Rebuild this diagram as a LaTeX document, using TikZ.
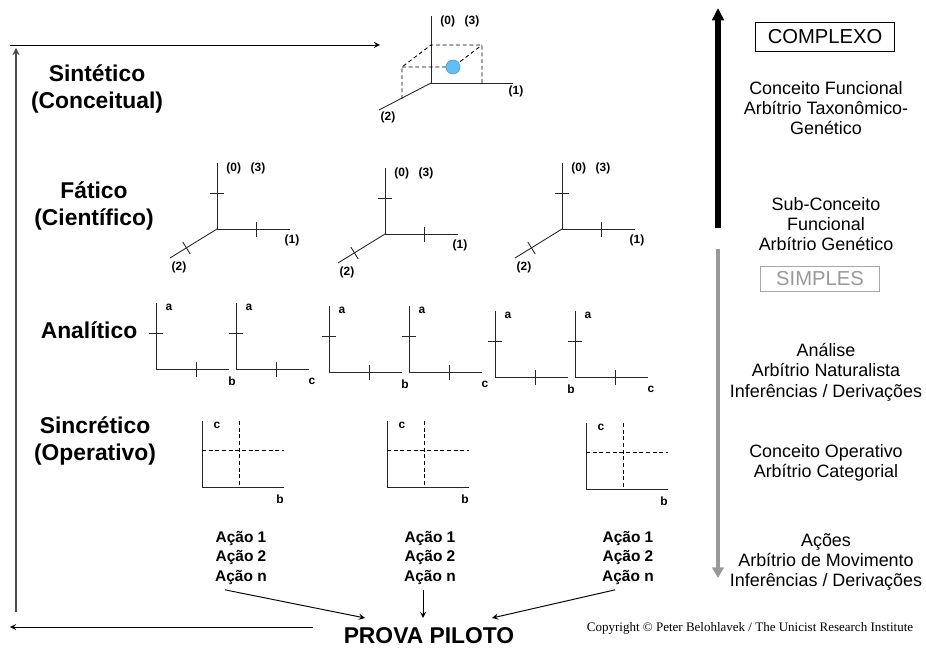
\documentclass[tikz,border=0pt]{standalone}
\usepackage{fontspec}
\setmainfont{Liberation Sans}
\newfontfamily\serifcopy{Liberation Serif}
\usetikzlibrary{calc,arrows.meta}
\definecolor{azzurro}{RGB}{95,190,245}

\begin{document}
\begin{tikzpicture}[x=0.02cm, y=-0.02cm, >=stealth, line width=0.55pt,
	asse/.style    = {line width=0.5pt, black!85},
	proiez/.style  = {line width=0.5pt, dash pattern=on 2.2pt off 1.6pt},
	livello/.style = {font=\bfseries\fontsize{13}{15.3}\selectfont, align=center},
	etic/.style    = {font=\bfseries\fontsize{6.8}{7}\selectfont, inner sep=0pt},
	azioni/.style  = {font=\bfseries\fontsize{8.8}{11}\selectfont, align=center},
	descr/.style   = {font=\fontsize{10.2}{11.6}\selectfont, align=center},
	scatola/.style = {draw, font=\fontsize{11.5}{12}\selectfont, inner sep=0pt},
	]
	
	%% ── Riquadro ─────────────────────────────────────────────────────────────
	\useasboundingbox (0,0) rectangle (926,648);
	
	%% ── Cornice a sinistra ───────────────────────────────────────────────────
	\draw[->, line width=0.8pt, black!70](16,612)--(16,48);
	\draw[->](10,45)--(380,45);
	\draw[->](313,627)--(10,627);
	
	%% ── Livelli ──────────────────────────────────────────────────────────────
	\node[livello] (sint) at (97,89)  {Sintético\\(Conceitual)};
	\node[livello] (fat)  at (94,206) {Fático\\(Científico)};
	\node[livello] (anal) at (89,330) {Analítico};
	\node[livello] (sinc) at (95,441) {Sincrético\\(Operativo)};
	
	%% ── Cubo (sintetico) ─────────────────────────────────────────────────────
	\draw[asse](431,16)--(431,83)--(513,83);
	\draw[asse](431,83)--(379,110);
	\draw[proiez](402,99)--(402,67)--(431,45)--(482,45)--(482,83);
	\draw[proiez](402,67)--(453,67)--(482,45);
	\fill[azzurro, draw=azzurro!80!black, line width=0.3pt](453,67)circle(4pt);
	\node[etic, anchor=west] (c03) at (440,21) {(0)\hspace{0.8em}(3)};
	\node[etic] (c1) at (516,91)  {(1)};
	\node[etic] (c2) at (388,117) {(2)};
	
	%% ── Assi 3D (fatico) ─────────────────────────────────────────────────────
	\foreach \ox/\oy [count=\i] in {217/229, 385/234, 562/229}{
		\draw[asse](\ox,\oy-66)--(\ox,\oy)--(\ox+73,\oy);
		\draw[asse](\ox,\oy)--(\ox-47,\oy+29);
		\draw[asse](\ox-7,\oy-36)--(\ox+7,\oy-36);
		\draw[asse](\ox+39,\oy-7)--(\ox+39,\oy+8);
		\draw[asse](\ox-34.2,\oy+13)--(\ox-26.8,\oy+25);
		\node[etic, anchor=west] (f03-\i) at (\ox+9,\oy-61) {(0)\hspace{0.8em}(3)};
		\node[etic] (f1-\i) at (\ox+75,\oy+11) {(1)};
		\node[etic] (f2-\i) at (\ox-38,\oy+38) {(2)};
	}
	
	%% ── Assi 2D (analitico) ──────────────────────────────────────────────────
	\foreach \ox/\oy/\lab [count=\i] in {156/369/b, 236/369/c, 329/372/b,
		409/372/c, 495/377/b, 575/377/c}{
		\draw[asse](\ox,\oy-66)--(\ox,\oy)--(\ox+73,\oy);
		\draw[asse](\ox-7,\oy-36)--(\ox+7,\oy-36);
		\draw[asse](\ox+40,\oy-7)--(\ox+40,\oy+8);
		\node[etic] (aa-\i) at (\ox+13,\oy-62) {a};
		\node[etic] (ab-\i) at (\ox+76,\oy+12) {\lab};
	}
	
	%% ── Grafici (sincretico) ─────────────────────────────────────────────────
	\foreach \ox/\oy [count=\i] in {202/487, 387/487, 586/489}{
		\draw[asse](\ox,\oy-66)--(\ox,\oy)--(\ox+82,\oy);
		\draw[proiez](\ox,\oy-37)--(\ox+82,\oy-37);
		\draw[proiez](\ox+37,\oy-66)--(\ox+37,\oy);
		\node[etic] (sc-\i) at (\ox+15,\oy-62) {c};
		\node[etic] (sb-\i) at (\ox+78,\oy+12) {b};
	}
	
	%% ── Azioni e prova pilota ────────────────────────────────────────────────
	\foreach \ax [count=\i] in {241,430,628}
	\node[azioni] (az\i) at (\ax,558) {Ação 1\\Ação 2\\Ação n};
	
	\node[font=\bfseries\fontsize{13}{15}\selectfont, inner sep=1pt] (prova)
	at (429,636) {PROVA PILOTO};
	
	\draw[->]($(az1.south)+(-16,-1)$)--($(prova.center)+(-64,-18)$);
	\draw[->]($(az2.south)+(-7,-1)$)--($(prova.center)+(-6,-18)$);
	\draw[->]($(az3.south)+(-13,-1)$)--($(prova.center)+(63,-18)$);
	
	%% ── Scala complesso / semplice ───────────────────────────────────────────
	\draw[line width=3.2pt, -{Triangle[length=7pt,width=6.5pt]}](718,228)--(718,8);
	\draw[line width=2pt, black!40, -{Triangle[length=6pt,width=6.5pt]}](718,249)--(718,578);
	
	\node[scatola, minimum width=79pt, minimum height=16.4pt] (compl)
	at (825,37) {COMPLEXO};
	\node[scatola, draw=black!35, text=black!40, minimum width=68pt,
	minimum height=14.2pt] (simpl) at (820,279) {SIMPLES};
	
	\node[descr] (funz)  at (826,108) {Conceito Funcional\\Arbítrio Taxonômico-\\Genético};
	\node[descr] (subc)  at (826,224) {Sub-Conceito\\Funcional\\Arbítrio Genético};
	\node[descr] (analis) at (826,372) {Análise\\Arbítrio Naturalista\\Inferências / Derivações};
	\node[descr] (oper)  at (826,463) {Conceito Operativo\\Arbítrio Categorial};
	\node[descr] (acoes) at (826,562) {Ações\\Arbítrio de Movimento\\Inferências / Derivações};
	
	%% ── Copyright ────────────────────────────────────────────────────────────
	\node[font=\serifcopy\fontsize{7.4}{8}\selectfont] (copyr) at (750,628)
	{Copyright © Peter Belohlavek / The Unicist Research Institute};
	
\end{tikzpicture}
\end{document}
